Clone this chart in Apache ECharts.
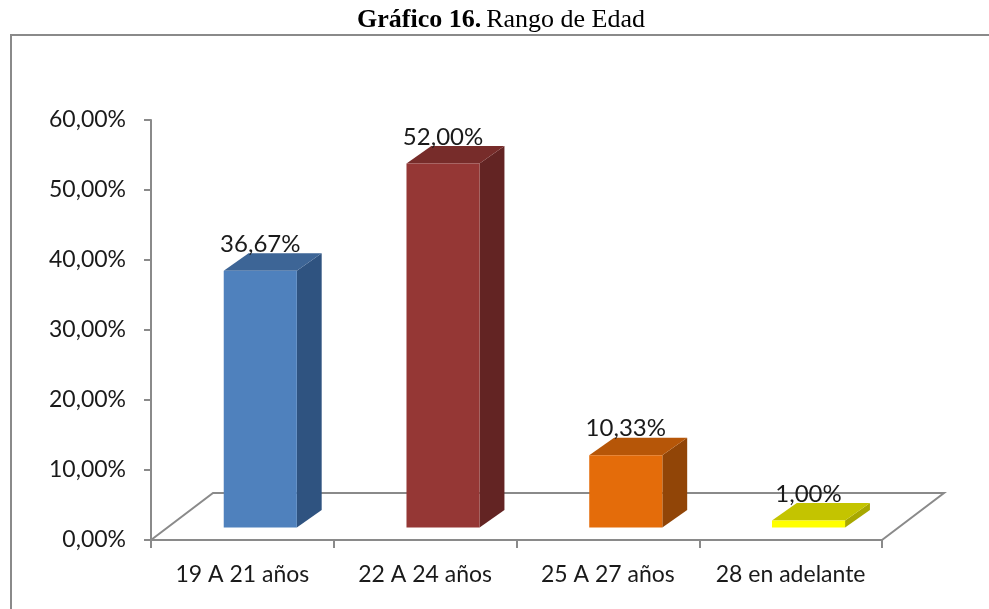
<!DOCTYPE html>
<html>
<head>
<meta charset="utf-8">
<script src="https://cdn.jsdelivr.net/npm/echarts@6/dist/echarts.min.js"></script>
<style>
  html, body { margin: 0; padding: 0; background: #fff; }
  #main { width: 989px; height: 609px; }
</style>
</head>
<body>
<div id="main"></div>
<script>
// datos del gráfico
const categories = ['19 A 21 años', '22 A 24 años', '25 A 27 años', '28 en adelante'];
const values = [36.67, 52.00, 10.33, 1.00];
const yTicks = [0, 10, 20, 30, 40, 50, 60];

// colores de cada barra (frente, tapa, lado)
const frontColors = ['#4F81BD', '#953735', '#E46C0A', '#FFFF00'];
const topColors = ['#3D6596', '#772C2A', '#B65608', '#C4C400'];
const sideColors = ['#2F5380', '#632423', '#914507', '#A8A800'];

const FONT = 'Lato, "Open Sans", sans-serif';
const GRAY = '#8a8a8a';

function fmt(v) {
  return v.toFixed(2).replace('.', ',') + '%';
}

// piso en perspectiva
function renderFloor(params, api) {
  const cs = params.coordSys;
  const fl = [cs.x, cs.y + cs.height];
  const fr = [cs.x + cs.width, cs.y + cs.height];
  const dx = 62, dy = -47;
  return {
    type: 'polyline',
    shape: { points: [fl, [fl[0] + dx, fl[1] + dy], [fr[0] + dx, fr[1] + dy], fr] },
    style: { stroke: GRAY, lineWidth: 2, fill: null }
  };
}

// barras 3D
function renderBar(params, api) {
  const i = api.value(0);
  const v = api.value(1);
  const base = api.coord([i, 0]);
  const top = api.coord([i, v]);
  const band = api.size([1, 0])[0];
  const w = band * 0.4;
  const ox = band * 0.098, oy = -12.5;
  const sx = w * 0.34, sy = -17.5;
  const x0 = base[0] + ox - w / 2, x1 = x0 + w;
  const yb = base[1] + oy, yt = top[1] + oy;
  return {
    type: 'group',
    children: [
      { type: 'polygon', shape: { points: [[x1, yb], [x1 + sx, yb + sy], [x1 + sx, yt + sy], [x1, yt]] },
        style: { fill: sideColors[i] } },
      { type: 'polygon', shape: { points: [[x0, yt], [x0 + sx, yt + sy], [x1 + sx, yt + sy], [x1, yt]] },
        style: { fill: topColors[i] } },
      { type: 'rect', shape: { x: x0, y: yt, width: w, height: yb - yt },
        style: { fill: frontColors[i] } },
      { type: 'text', z2: 10,
        style: { x: (x0 + x1) / 2, y: yt + sy + 3, text: fmt(v), align: 'center', verticalAlign: 'bottom',
          font: '24px ' + FONT, fill: '#1a1a1a' } }
    ]
  };
}

const chart = echarts.init(document.getElementById('main'), null, { renderer: 'canvas' });
chart.setOption({
  backgroundColor: '#fff',
  animation: false,
  title: {
    text: '{b|Gráfico 16.} {n|Rango de Edad}',
    left: 352, top: 2,
    textStyle: {
      fontWeight: 'normal',
      rich: {
        b: { fontFamily: '"Liberation Serif", serif', fontWeight: 'bold', fontSize: 26, color: '#000' },
        n: { fontFamily: '"Liberation Serif", serif', fontWeight: 'normal', fontSize: 26, color: '#000' }
      }
    }
  },
  graphic: [{
    type: 'rect', silent: true, z: -10,
    shape: { x: 11, y: 35, width: 1200, height: 900 },
    style: { fill: null, stroke: GRAY, lineWidth: 2 }
  }],
  grid: { left: 151, right: 107, top: 120, bottom: 69, containLabel: false },
  xAxis: {
    type: 'category',
    data: categories,
    boundaryGap: true,
    axisLine: { lineStyle: { color: GRAY, width: 2 } },
    axisTick: { show: true, interval: 0, length: 8, lineStyle: { color: GRAY, width: 2 } },
    axisLabel: { interval: 0, margin: 23, fontSize: 23, fontFamily: FONT, color: '#1a1a1a' }
  },
  yAxis: {
    type: 'value',
    min: yTicks[0], max: yTicks[yTicks.length - 1], interval: 10,
    axisLine: { show: true, lineStyle: { color: GRAY, width: 2 } },
    axisTick: { show: true, length: 7, lineStyle: { color: GRAY, width: 2 } },
    splitLine: { show: false },
    axisLabel: { margin: 25, fontSize: 23, fontFamily: FONT, color: '#1a1a1a',
      formatter: v => fmt(v) }
  },
  series: [
    { type: 'custom', renderItem: renderFloor, data: [[0, 0]], z: 1, silent: true },
    { type: 'custom', renderItem: renderBar, z: 2,
      data: values.map((v, i) => [i, v]) }
  ]
});
</script>
</body>
</html>
